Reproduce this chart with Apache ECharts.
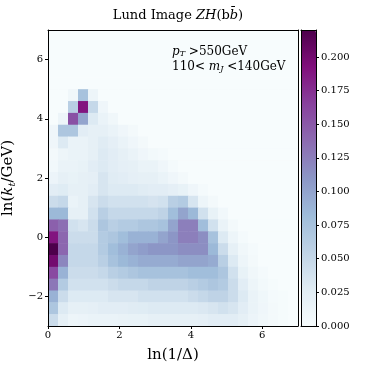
<!DOCTYPE html>
<html><head><meta charset="utf-8">
<script src="https://cdn.jsdelivr.net/npm/echarts@6/dist/echarts.min.js"></script>
<style>html,body{margin:0;padding:0;background:#fff}#c{width:371px;height:371px}</style>
</head><body><div id="c"></div>
<script>
// Bin layout of the Lund plane histogram
const xStart = 0, xBin = 0.28, nX = 25;   // ln(1/Delta)
const yTop = 7, yBin = 0.4, nY = 25;      // ln(kt/GeV), rows listed from top
const xTicks = [0, 2, 4, 6];
const yTicks = [-2, 0, 2, 4, 6];
const cbTicks = [0, 0.025, 0.05, 0.075, 0.1, 0.125, 0.15, 0.175, 0.2];
const cbMax = 0.22;
const cmap = ['#f7fcfd','#e0ecf4','#bfd3e6','#9ebcda','#8c96c6','#8c6bb1','#88419d','#810f7c','#4d004b'];
const z = 0;
// density per cell; rows from top (y 6.6..7.0) to bottom (-3.0..-2.6)
const lundRows = [
 [z,z,z,z,z,z,z,z,z,z,z,z,z,z,z,z,z,z,z,z,z,z,z,z,z],
 [z,z,z,z,z,z,z,z,z,z,z,z,z,z,z,z,z,z,z,z,z,z,z,z,z],
 [z,z,z,z,z,z,z,z,z,z,z,z,z,z,z,z,z,z,z,z,z,z,z,z,z],
 [z,z,z,z,z,z,z,z,z,z,z,z,z,z,z,z,z,z,z,z,z,z,z,z,z],
 [z,z,z,z,z,z,z,z,z,z,z,z,z,z,z,z,z,z,z,z,z,z,z,z,z],
 [0,0,0.008,0.075,0.012,0,0,0,0,0,0,0,0,0,0,0,0,0,0,0,0,0,0,0,0],
 [0,0,0.06,0.19,0.05,0.01,0,0,0,0,0,0,0,0,0,0,0,0,0,0,0,0,0,0,0],
 [0,0.012,0.155,0.1,0.03,0.015,0.008,0,0,0,0,0,0,0,0,0,0,0,0,0,0,0,0,0,0],
 [0.01,0.07,0.07,0.025,0.02,0.02,0.015,0.01,0.005,0,0,0,0,0,0,0,0,0,0,0,0,0,0,0,0],
 [0.01,0.03,0.015,0.015,0.02,0.027,0.022,0.015,0.01,0.005,0,0,0,0,0,0,0,0,0,0,0,0,0,0,0],
 [0.005,0.012,0.015,0.015,0.02,0.03,0.025,0.02,0.015,0.01,0.006,0.003,0,0,0,0,0,0,0,0,0,0,0,0,0],
 [0.007,0.015,0.015,0.018,0.025,0.03,0.025,0.022,0.02,0.015,0.015,0.01,0.004,0,0,0,0,0,0,0,0,0,0,0,0],
 [0.013,0.02,0.018,0.02,0.022,0.035,0.027,0.025,0.022,0.02,0.02,0.015,0.01,0.005,0,0,0,0,0,0,0,0,0,0,0],
 [0.025,0.028,0.02,0.02,0.025,0.035,0.03,0.03,0.03,0.027,0.025,0.025,0.022,0.018,0.01,0.004,0,0,0,0,0,0,0,0,0],
 [0.045,0.05,0.015,0.02,0.035,0.045,0.04,0.04,0.04,0.04,0.037,0.04,0.06,0.065,0.035,0.012,0.005,0,0,0,0,0,0,0,0],
 [0.085,0.085,0.02,0.02,0.04,0.06,0.05,0.05,0.05,0.05,0.05,0.055,0.08,0.1,0.085,0.04,0.018,0.007,0,0,0,0,0,0,0],
 [0.145,0.135,0.04,0.035,0.045,0.07,0.06,0.065,0.065,0.07,0.07,0.075,0.1,0.125,0.125,0.08,0.04,0.015,0.005,0,0,0,0,0,0],
 [0.19,0.14,0.045,0.045,0.045,0.065,0.07,0.08,0.09,0.09,0.09,0.1,0.11,0.125,0.125,0.115,0.075,0.03,0.012,0.004,0,0,0,0,0],
 [0.22,0.14,0.05,0.05,0.05,0.065,0.08,0.09,0.1,0.105,0.11,0.11,0.11,0.115,0.115,0.115,0.085,0.045,0.02,0.008,0.003,0,0,0,0],
 [0.2,0.12,0.05,0.05,0.05,0.06,0.075,0.085,0.09,0.095,0.095,0.095,0.095,0.1,0.1,0.1,0.095,0.06,0.03,0.012,0.005,0,0,0,0],
 [0.16,0.09,0.045,0.045,0.045,0.05,0.06,0.065,0.07,0.075,0.075,0.075,0.075,0.075,0.08,0.08,0.08,0.07,0.04,0.018,0.008,0.003,0,0,0],
 [0.13,0.065,0.04,0.04,0.04,0.04,0.045,0.05,0.05,0.05,0.055,0.055,0.055,0.055,0.06,0.065,0.07,0.065,0.045,0.025,0.012,0.006,0.002,0,0],
 [0.09,0.045,0.03,0.03,0.03,0.03,0.035,0.035,0.035,0.04,0.04,0.04,0.04,0.04,0.045,0.05,0.055,0.055,0.045,0.03,0.016,0.009,0.004,0.002,0],
 [0.07,0.03,0.02,0.02,0.022,0.025,0.025,0.025,0.027,0.028,0.03,0.03,0.03,0.03,0.03,0.032,0.035,0.04,0.035,0.025,0.016,0.01,0.005,0.002,0],
 [0.045,0.02,0.012,0.013,0.015,0.015,0.016,0.017,0.018,0.018,0.02,0.02,0.02,0.02,0.02,0.022,0.025,0.025,0.025,0.02,0.013,0.008,0.005,0.002,0]
];

const cells = [];
lundRows.forEach((row, r) => row.forEach((v, c) => {
  const x0 = xStart + c * xBin, y1 = yTop - r * yBin;
  cells.push([x0, y1 - yBin, x0 + xBin, y1, v]);
}));

const FONT = 'DejaVu Serif';
const chart = echarts.init(document.getElementById('c'), null, {renderer: 'canvas'});
const fmtMinus = v => (v < 0 ? '\u2212' + Math.abs(v) : String(v));
chart.setOption({
  animation: false,
  textStyle: {fontFamily: FONT, color: '#000'},
  title: {
    text: 'Lund Image {i|ZH}(b{i|b\u0304})',
    left: 173, top: 4, textAlign: 'center',
    textStyle: {fontFamily: FONT, fontSize: 13, fontWeight: 'normal', color: '#000',
      rich: {i: {fontFamily: FONT, fontStyle: 'italic', fontSize: 13, color: '#000'}}}
  },
  grid: [
    {left: 48, top: 30, width: 250, height: 296, outerBoundsMode: 'none', containLabel: false},
    {left: 301, top: 30, width: 15, height: 296, outerBoundsMode: 'none', containLabel: false}
  ],
  xAxis: [
    {gridIndex: 0, type: 'value', min: 0, max: 7, interval: 2, z: 5,
     name: 'ln(1/\u0394)', nameLocation: 'middle', nameGap: 22, nameMoveOverlap: false,
     nameTextStyle: {fontFamily: FONT, fontSize: 15, color: '#000'},
     axisLine: {show: true, onZero: false, lineStyle: {color: '#000', width: 1}},
     axisTick: {show: true, length: 3, customValues: xTicks, lineStyle: {color: '#000'}},
     axisLabel: {customValues: xTicks, fontFamily: FONT, fontSize: 10, color: '#000', margin: 4, formatter: fmtMinus},
     splitLine: {show: false}},
    {gridIndex: 0, type: 'value', min: 0, max: 7, position: 'top', z: 5,
     axisLine: {show: true, onZero: false, lineStyle: {color: '#000', width: 1}},
     axisTick: {show: false}, axisLabel: {show: false}, splitLine: {show: false}},
    {gridIndex: 1, type: 'value', min: 0, max: 1, z: 5, position: 'bottom',
     axisLine: {show: true, onZero: false, lineStyle: {color: '#000'}},
     axisTick: {show: false}, axisLabel: {show: false}, splitLine: {show: false}},
    {gridIndex: 1, type: 'value', min: 0, max: 1, z: 5, position: 'top',
     axisLine: {show: true, onZero: false, lineStyle: {color: '#000'}},
     axisTick: {show: false}, axisLabel: {show: false}, splitLine: {show: false}}
  ],
  yAxis: [
    {gridIndex: 0, type: 'value', min: -3, max: 7, interval: 2, z: 5,
     name: 'ln({i|k}{s|t}/GeV)', nameLocation: 'middle', nameGap: 31, nameRotate: 90, nameMoveOverlap: false,
     nameTextStyle: {fontFamily: FONT, fontSize: 15, color: '#000',
       rich: {i: {fontFamily: FONT, fontStyle: 'italic', fontSize: 15, color: '#000'},
              s: {fontFamily: FONT, fontStyle: 'italic', fontSize: 10, color: '#000', padding: [7, 0, 0, 0]}}},
     axisLine: {show: true, onZero: false, lineStyle: {color: '#000', width: 1}},
     axisTick: {show: true, length: 3, customValues: yTicks, lineStyle: {color: '#000'}},
     axisLabel: {customValues: yTicks, fontFamily: FONT, fontSize: 10, color: '#000', margin: 5, formatter: fmtMinus},
     splitLine: {show: false}},
    {gridIndex: 0, type: 'value', min: -3, max: 7, position: 'right', z: 5,
     axisLine: {show: true, onZero: false, lineStyle: {color: '#000', width: 1}},
     axisTick: {show: false}, axisLabel: {show: false}, splitLine: {show: false}},
    {gridIndex: 1, type: 'value', min: 0, max: cbMax, position: 'right', z: 5,
     axisLine: {show: true, onZero: false, lineStyle: {color: '#000'}},
     axisTick: {show: true, length: 3, customValues: cbTicks, lineStyle: {color: '#000'}},
     axisLabel: {customValues: cbTicks, fontFamily: FONT, fontSize: 10, color: '#000', margin: 5,
                 formatter: v => v.toFixed(3)},
     splitLine: {show: false}},
    {gridIndex: 1, type: 'value', min: 0, max: cbMax, position: 'left', z: 5,
     axisLine: {show: true, onZero: false, lineStyle: {color: '#000'}},
     axisTick: {show: false}, axisLabel: {show: false}, splitLine: {show: false}}
  ],
  visualMap: {
    type: 'continuous', min: 0, max: cbMax, dimension: 4, seriesIndex: 0,
    inRange: {color: cmap}, calculable: false, hoverLink: false, realtime: false,
    left: 301, top: 30, itemWidth: 15, itemHeight: 296, padding: 0, text: null, showLabel: false,
    orient: 'vertical'
  },
  graphic: [{
    type: 'text', left: 172, top: 44, z: 10,
    style: {text: '{i|p}{s|T} >550GeV\n110< {i|m}{s|J} <140GeV', fill: '#000',
      font: '12px "' + FONT + '"', lineHeight: 15,
      rich: {i: {fontStyle: 'italic', fontFamily: FONT, fontSize: 12},
             s: {fontStyle: 'italic', fontFamily: FONT, fontSize: 8, padding: [5, 0, 0, 0]}}}
  }],
  series: [{
    type: 'custom', xAxisIndex: 0, yAxisIndex: 0, coordinateSystem: 'cartesian2d',
    encode: {x: [0, 2], y: [1, 3]},
    data: cells,
    renderItem: (params, api) => {
      const p0 = api.coord([api.value(0), api.value(3)]);
      const p1 = api.coord([api.value(2), api.value(1)]);
      return {type: 'rect', shape: {x: p0[0], y: p0[1], width: p1[0] - p0[0] + 0.5, height: p1[1] - p0[1] + 0.5},
              style: {fill: api.visual('color')}};
    }
  }]
});
</script></body></html>
